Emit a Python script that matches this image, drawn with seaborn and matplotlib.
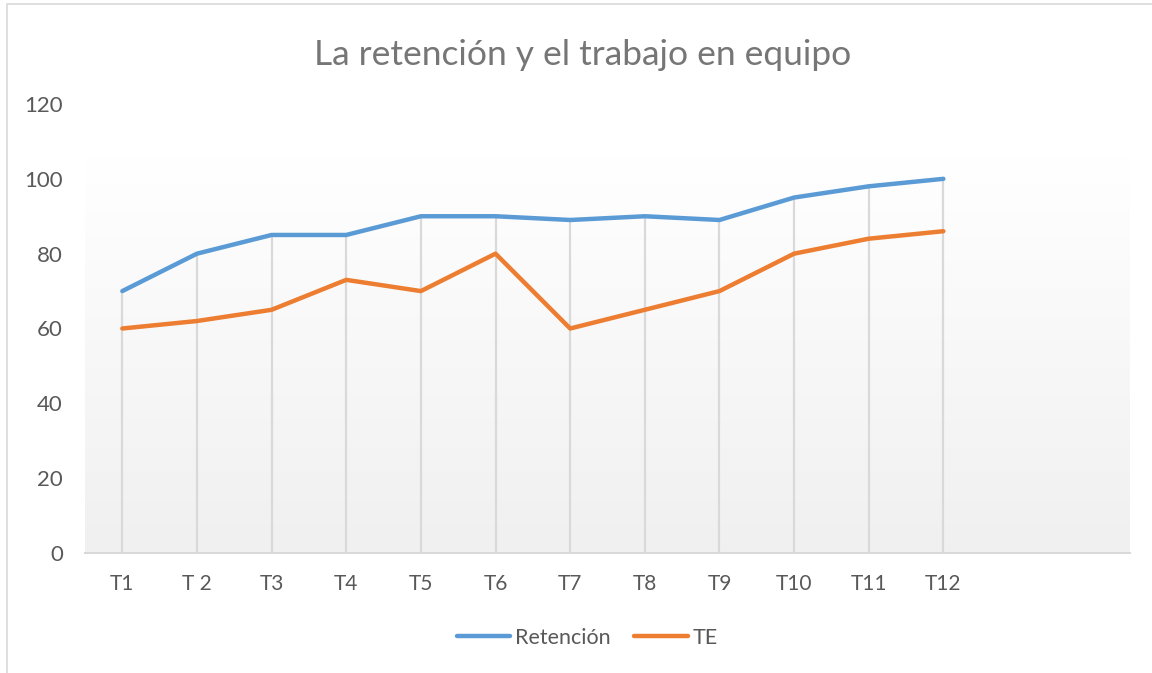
import matplotlib
matplotlib.use("Agg")
import matplotlib.pyplot as plt
import seaborn as sns
import numpy as np
import pandas as pd
from matplotlib.patches import Rectangle

# Data
periods = ["T1", "T 2", "T3", "T4", "T5", "T6", "T7", "T8", "T9", "T10", "T11", "T12"]
retencion = [70, 80, 85, 85, 90, 90, 89, 90, 89, 95, 98, 100]
te = [60, 62, 65, 73, 70, 80, 60, 65, 70, 80, 84, 86]
y_ticks = [0, 20, 40, 60, 80, 100, 120]
n_slots = 14  # axis leaves room for two empty categories on the right

df = pd.DataFrame({"periodo": periods, "Retención": retencion, "TE": te})
long_df = df.melt(id_vars="periodo", var_name="serie", value_name="valor")

sns.set_theme(style="white")
plt.rcParams["font.family"] = ["Lato", "DejaVu Sans"]

fig = plt.figure(figsize=(11.52, 6.73), dpi=100)
ax = fig.add_axes([85 / 1152, (673 - 553) / 673, (1130 - 85) / 1152, (553 - 104) / 673])

# soft gradient wall behind the plot
grad = np.linspace(0, 1, 256).reshape(-1, 1)
wall = matplotlib.colors.LinearSegmentedColormap.from_list("wall", ["#f0f0f0", "#ffffff"])
ax.imshow(grad, extent=(-0.5, n_slots - 0.5, 0, 106), aspect="auto",
          cmap=wall, origin="lower", zorder=0)

# drop lines from the upper series to the axis
ax.vlines(range(len(periods)), 0, retencion, color="#d9d9d9", lw=1.6, zorder=1)

sns.lineplot(data=long_df, x="periodo", y="valor", hue="serie", sort=False,
             palette=["#5B9BD5", "#ED7D31"], linewidth=3.2, ax=ax, zorder=3)

ax.set_xlim(-0.5, n_slots - 0.5)
ax.set_ylim(0, 120)
ax.set_yticks(y_ticks)
ax.set_xticks(range(len(periods)))
ax.set_xticklabels(periods)
ax.tick_params(axis="both", length=0, labelcolor="#595959")
ax.tick_params(axis="x", pad=15, labelsize=15)
ax.tick_params(axis="y", pad=16, labelsize=16)
ax.set_xlabel("")
ax.set_ylabel("")
for side in ["top", "right", "left"]:
    ax.spines[side].set_visible(False)
ax.spines["bottom"].set_color("#d9d9d9")
ax.spines["bottom"].set_linewidth(1.5)
ax.set_facecolor("white")

ax.set_title("La retención y el trabajo en equipo", fontsize=25.5, color="#767676",
             pad=28, x=(583 - 85) / (1130 - 85))

leg = ax.legend(title=None, loc="center", ncol=2, frameon=False, fontsize=15.5,
                handlelength=2.5, handletextpad=0.2, columnspacing=1.1,
                labelcolor="#595959")
leg.set_bbox_to_anchor(((587 - 85) / (1130 - 85), (553 - 638) / (553 - 104)), transform=ax.transAxes)

# thin chart border like the source
fig.patches.append(Rectangle((7 / 1152, -0.01), 1.1, (673 - 4) / 673 + 0.01,
                             transform=fig.transFigure, fill=False, ec="#d9d9d9", lw=1.2))

fig.savefig("out.png", dpi=100)
